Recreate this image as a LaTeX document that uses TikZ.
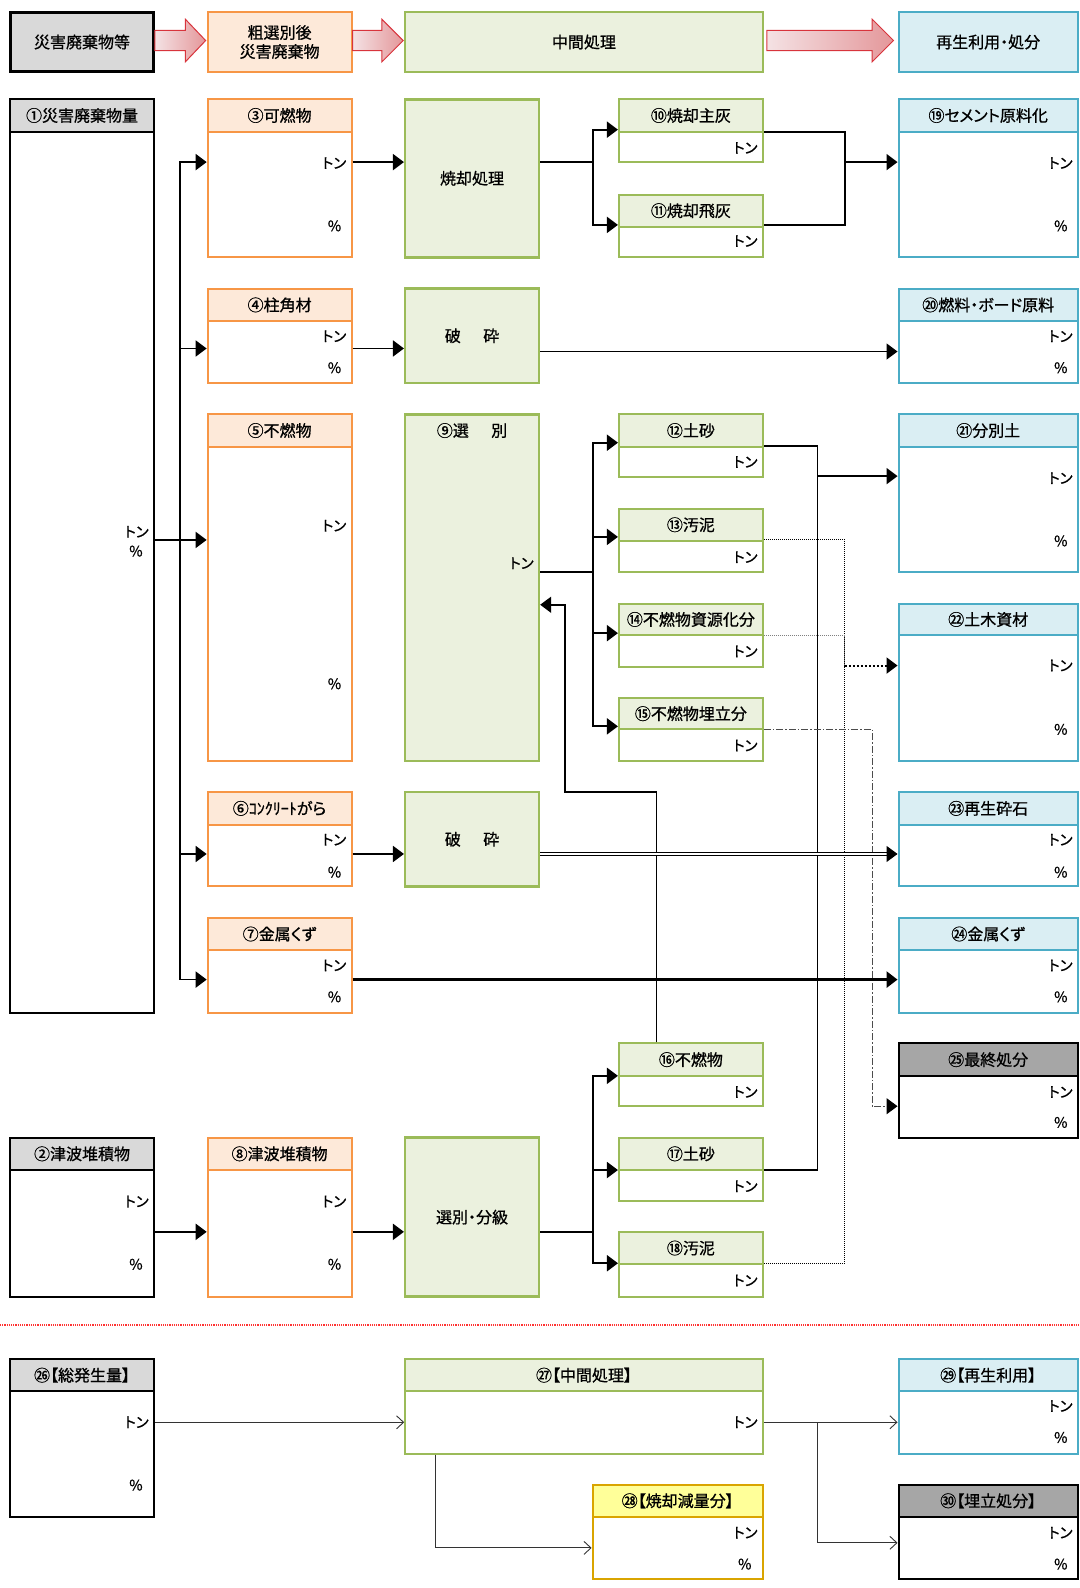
\documentclass[tikz,border=0pt]{standalone}
\usepackage{fontspec}
\setmainfont{Noto Sans CJK JP}[RawFeature={+palt}, FakeBold=0.8]
\usetikzlibrary{arrows.meta,fit}

\definecolor{grayfill}{HTML}{D9D9D9}
\definecolor{darkfill}{HTML}{A6A6A6}
\definecolor{orgline}{HTML}{F79646}
\definecolor{orgfill}{HTML}{FDE9D9}
\definecolor{grnline}{HTML}{9BBB59}
\definecolor{grnfill}{HTML}{EBF1DE}
\definecolor{bluline}{HTML}{4BACC6}
\definecolor{blufill}{HTML}{DAEEF3}
\definecolor{ylwline}{HTML}{D9A400}
\definecolor{ylwfill}{HTML}{FFFF99}
\definecolor{arwline}{HTML}{D8343C}
\definecolor{arwlight}{HTML}{F4E2E4}
\definecolor{arwdark}{HTML}{E4979A}

\newcommand{\hdfont}{\fontsize{16}{19}\selectfont}
\newcommand{\unitfont}{\fontsize{14.5}{16}\selectfont}

\begin{document}
\begin{tikzpicture}[x=1.013pt, y=-1.013pt,
    cellbox/.style={draw, fill=white, inner sep=0pt, line width=2pt},
    blkbox/.style={cellbox, draw=black},
    blkhead/.style={blkbox, fill=grayfill},
    darkhead/.style={blkbox, fill=darkfill},
    orgbox/.style={cellbox, draw=orgline},
    orghead/.style={orgbox, fill=orgfill},
    grnbox/.style={cellbox, draw=grnline},
    grnhead/.style={grnbox, fill=grnfill},
    procbox/.style={grnbox, fill=grnfill, line width=2.5pt},
    blubox/.style={cellbox, draw=bluline},
    bluhead/.style={blubox, fill=blufill},
    ylwbox/.style={cellbox, draw=ylwline},
    ylwhead/.style={ylwbox, fill=ylwfill},
    hdtext/.style={inner sep=0pt, font=\hdfont, align=center},
    unitlbl/.style={anchor=east, inner sep=0pt, font=\unitfont},
    flow/.style={line width=1.8pt, -{Triangle[length=11pt, width=16pt]}},
    flowline/.style={line width=1.8pt},
    dotline/.style={line width=1pt, densely dotted},
    dotflow/.style={line width=2pt, dotted, -{Triangle[length=11pt, width=16pt]}},
    dashdotflow/.style={line width=1pt, black!70, dash pattern=on 7pt off 2pt on 1.5pt off 2pt, -{Triangle[length=11pt, width=16pt, color=black]}},
    dblflow/.style={double, double distance=1.6pt, line width=1pt, -{Triangle[length=11pt, width=16pt]}},
    thinflow/.style={line width=0.9pt, black!80, -{Straight Barb[length=7pt, width=13pt]}},
    redsep/.style={red!80, line width=1.2pt, densely dotted},
    blockarrow/.style={left color=arwlight, right color=arwdark, draw=arwline, line width=1pt}]

  \useasboundingbox (0,0) rectangle (1066.1,1567.6);

  % top row
  \node[blkbox, fill=grayfill, line width=3pt, fit={(10,12) (152,71)}] (top1) {};
  \node[orgbox, fill=orgfill, fit={(205,12) (347,71)}] (top2) {};
  \node[procbox, fit={(400,12) (753,71)}] (top3) {};
  \node[blubox, fill=blufill, fit={(887,12) (1064,71)}] (top4) {};
  \node[hdtext] (top1-t) at (top1) {災害廃棄物等};
  \node[hdtext] (top2-t) at (top2) {粗選別後\\災害廃棄物};
  \node[hdtext] (top3-t) at (top3) {中間処理};
  \node[hdtext] (top4-t) at (top4) {再生利用・処分};

  \shadedraw[blockarrow] (153,30) -- (183,30) -- (183,19) -- (203,40) -- (183,61) -- (183,50) -- (153,50) -- cycle;
  \shadedraw[blockarrow] (348,30) -- (377,30) -- (377,19) -- (398,40) -- (377,61) -- (377,50) -- (348,50) -- cycle;
  \shadedraw[blockarrow] (757,30) -- (861,30) -- (861,19) -- (882,40) -- (861,61) -- (861,50) -- (757,50) -- cycle;

  % left column
  \foreach \n/\ya/\yh/\yb/\t in {b1/98/130/1000/①災害廃棄物量, b2/1123/1155/1280/②津波堆積物, b26/1342/1373/1497/㉖【総発生量】} {
    \node[blkbox, fit={(10,\ya) (152,\yb)}] (\n) {};
    \node[blkhead, fit={(10,\ya) (152,\yh)}] (\n-h) {};
    \node[hdtext] (\n-t) at (\n-h) {\t};
  }

  % sorted waste
  \foreach \n/\ya/\yh/\yb/\t in {b3/98/130/254/③可燃物, b4/285/317/378/④柱角材, b5/409/441/751/⑤不燃物,
      b6/782/814/875/⑥ｺﾝｸﾘｰﾄがら, b7/906/938/1000/⑦金属くず, b8/1123/1155/1280/⑧津波堆積物} {
    \node[orgbox, fit={(205,\ya) (347,\yb)}] (\n) {};
    \node[orghead, fit={(205,\ya) (347,\yh)}] (\n-h) {};
    \node[hdtext] (\n-t) at (\n-h) {\t};
  }

  % processing
  \node[procbox, fit={(400,98) (532,254)}] (p1) {};
  \node[procbox, fit={(400,285) (532,378)}] (p2) {};
  \node[procbox, fit={(400,409) (532,751)}] (p3) {};
  \node[procbox, fit={(400,782) (532,875)}] (p4) {};
  \node[procbox, fit={(400,1123) (532,1280)}] (p5) {};
  \node[hdtext] (p1-t) at (p1) {焼却処理};
  \node[hdtext] (p2-t) at (p2) {破\hspace{1.4em}砕};
  \node[hdtext] (p3-t) at (466,425) {⑨選\hspace{1.4em}別};
  \node[hdtext] (p4-t) at (p4) {破\hspace{1.4em}砕};
  \node[hdtext] (p5-t) at (p5) {選別・分級};

  \foreach \n/\ya/\yh/\yb/\t in {b10/98/130/160/⑩焼却主灰, b11/192/224/254/⑪焼却飛灰, b12/409/441/471/⑫土砂,
      b13/502/534/565/⑬汚泥, b14/596/627/658/⑭不燃物資源化分, b15/689/720/751/⑮不燃物埋立分,
      b16/1030/1062/1092/⑯不燃物, b17/1123/1155/1186/⑰土砂, b18/1216/1248/1280/⑱汚泥} {
    \node[grnbox, fit={(611,\ya) (753,\yb)}] (\n) {};
    \node[grnhead, fit={(611,\ya) (753,\yh)}] (\n-h) {};
    \node[hdtext] (\n-t) at (\n-h) {\t};
  }

  % recycling and disposal
  \foreach \n/\ya/\yh/\yb/\t in {b19/98/130/254/⑲セメント原料化, b20/285/317/378/⑳燃料・ボード原料, b21/409/441/565/㉑分別土,
      b22/596/627/751/㉒土木資材, b23/782/814/875/㉓再生砕石, b24/906/938/1000/㉔金属くず, b29/1342/1373/1435/㉙【再生利用】} {
    \node[blubox, fit={(887,\ya) (1064,\yb)}] (\n) {};
    \node[bluhead, fit={(887,\ya) (1064,\yh)}] (\n-h) {};
    \node[hdtext] (\n-t) at (\n-h) {\t};
  }
  \foreach \n/\ya/\yh/\yb/\t in {b25/1030/1062/1123/㉕最終処分, b30/1466/1497/1559/㉚【埋立処分】} {
    \node[blkbox, fit={(887,\ya) (1064,\yb)}] (\n) {};
    \node[darkhead, fit={(887,\ya) (1064,\yh)}] (\n-h) {};
    \node[hdtext] (\n-t) at (\n-h) {\t};
  }

  % totals
  \node[grnbox, fit={(400,1342) (753,1435)}] (b27) {};
  \node[grnhead, fit={(400,1342) (753,1373)}] (b27-h) {};
  \node[hdtext] (b27-t) at (b27-h) {㉗【中間処理】};
  \node[ylwbox, fit={(585,1466) (753,1559)}] (b28) {};
  \node[ylwhead, fit={(585,1466) (753,1497)}] (b28-h) {};
  \node[hdtext] (b28-t) at (b28-h) {㉘【焼却減量分】};

  % units
  \foreach \n/\x/\y/\t in {u1a/147/525/トン, u1b/141/544/\%, u2a/147/1186/トン, u2b/141/1248/\%, u26a/147/1404/トン, u26b/141/1466/\%,
      u3a/342/161/トン, u3b/337/223/\%, u4a/342/332/トン, u4b/337/363/\%, u5a/342/519/トン, u5b/337/675/\%,
      u6a/342/829/トン, u6b/337/861/\%, u7a/342/953/トン, u7b/337/984/\%, u8a/342/1186/トン, u8b/337/1248/\%,
      u9a/527/556/トン, u10/748/146/トン, u11/748/238/トン, u12/748/456/トン, u13/748/550/トン, u14/748/643/トン,
      u15/748/736/トン, u16/748/1078/トン, u17/748/1171/トン, u18/748/1264/トン, u27/748/1404/トン,
      u28a/748/1513/トン, u28b/742/1544/\%,
      u19a/1059/161/トン, u19b/1054/223/\%, u20a/1059/332/トン, u20b/1054/363/\%, u21a/1059/472/トン, u21b/1054/534/\%,
      u22a/1059/657/トン, u22b/1054/720/\%, u23a/1059/829/トン, u23b/1054/861/\%, u24a/1059/953/トン, u24b/1054/984/\%,
      u25a/1059/1078/トン, u25b/1054/1108/\%, u29a/1059/1388/トン, u29b/1054/1419/\%, u30a/1059/1513/トン, u30b/1054/1544/\%}
    \node[unitlbl] (\n) at (\x,\y) {\t};

  % flows from the waste total
  \coordinate (j1) at (178,533);
  \foreach \m/\y in {b3/160, b4/344, b6/843, b7/967}
    \draw[flow] (b1.east |- j1) -- (j1) |- (\m.west |- 0,\y);
  \draw[flow] (b1.east |- j1) -- (b5.west |- j1);

  % incineration
  \draw[flow] (b3.east |- 0,160) -- (p1.west |- 0,160);
  \coordinate (j2) at (585,160);
  \draw[flow] (p1.east |- j2) -- (j2) |- (b10.west |- 0,128);
  \draw[flow] (p1.east |- j2) -- (j2) |- (b11.west |- 0,222);
  \coordinate (j3) at (834,160);
  \draw[flowline] (b10.east |- 0,130) -| (j3) |- (b11.east |- 0,222);
  \draw[flow] (j3) -- (b19.west |- j3);

  % timber
  \draw[flow] (b4.east |- 0,344) -- (p2.west |- 0,344);
  \draw[flow, line width=1.3pt] (p2.east |- 0,347) -- (b20.west |- 0,347);

  % sorting
  \coordinate (j4) at (585,565);
  \foreach \m/\y in {b12/437, b13/530, b14/625, b15/717}
    \draw[flow] (p3.east |- j4) -- (j4) |- (\m.west |- 0,\y);
  \coordinate (j5) at (807,470);
  \draw[flowline] (b12.east |- 0,440) -| (j5) |- (b17.east |- 0,1155);
  \draw[flow] (j5) -- (b21.west |- j5);
  \coordinate (j6) at (834,657);
  \draw[dotline] (b13.east |- 0,533) -| (j6) |- (b18.east |- 0,1247);
  \draw[dotline, gray] (b14.east |- 0,627) -| (j6);
  \draw[dotflow] (j6) -- (b22.west |- j6);
  \coordinate (j7) at (861,1092);
  \draw[dashdotflow] (b15.east |- 0,720) -| (j7) -- (b25.west |- j7);
  \coordinate (j8) at (648,782);
  \coordinate (j9) at (558,597);
  \draw[flow] (b16.north -| j8) -- (j8) -| (j9) -- (p3.east |- j9);

  % concrete and metal
  \draw[flow] (b6.east |- 0,843) -- (p4.west |- 0,843);
  \draw[dblflow] (p4.east |- 0,843) -- (b23.west |- 0,843);
  \draw[flow, line width=3.5pt] (b7.east |- 0,967) -- (b24.west |- 0,967);

  % tsunami deposits
  \draw[flow] (b2.east |- 0,1216) -- (b8.west |- 0,1216);
  \draw[flow] (b8.east |- 0,1216) -- (p5.west |- 0,1216);
  \coordinate (j10) at (585,1216);
  \foreach \m/\y in {b16/1062, b17/1155, b18/1247}
    \draw[flow] (p5.east |- j10) -- (j10) |- (\m.west |- 0,\y);

  \draw[redsep] (0,1308) -- (1066,1308);

  % totals
  \draw[thinflow] (b26.east |- 0,1404) -- (b27.west |- 0,1404);
  \draw[thinflow] (b27.south -| 430,0) |- (b28.west |- 0,1528);
  \coordinate (j11) at (807,1404);
  \draw[thinflow] (b27.east |- j11) -- (b29.west |- j11);
  \draw[thinflow] (j11) |- (b30.west |- 0,1523);
\end{tikzpicture}
\end{document}
